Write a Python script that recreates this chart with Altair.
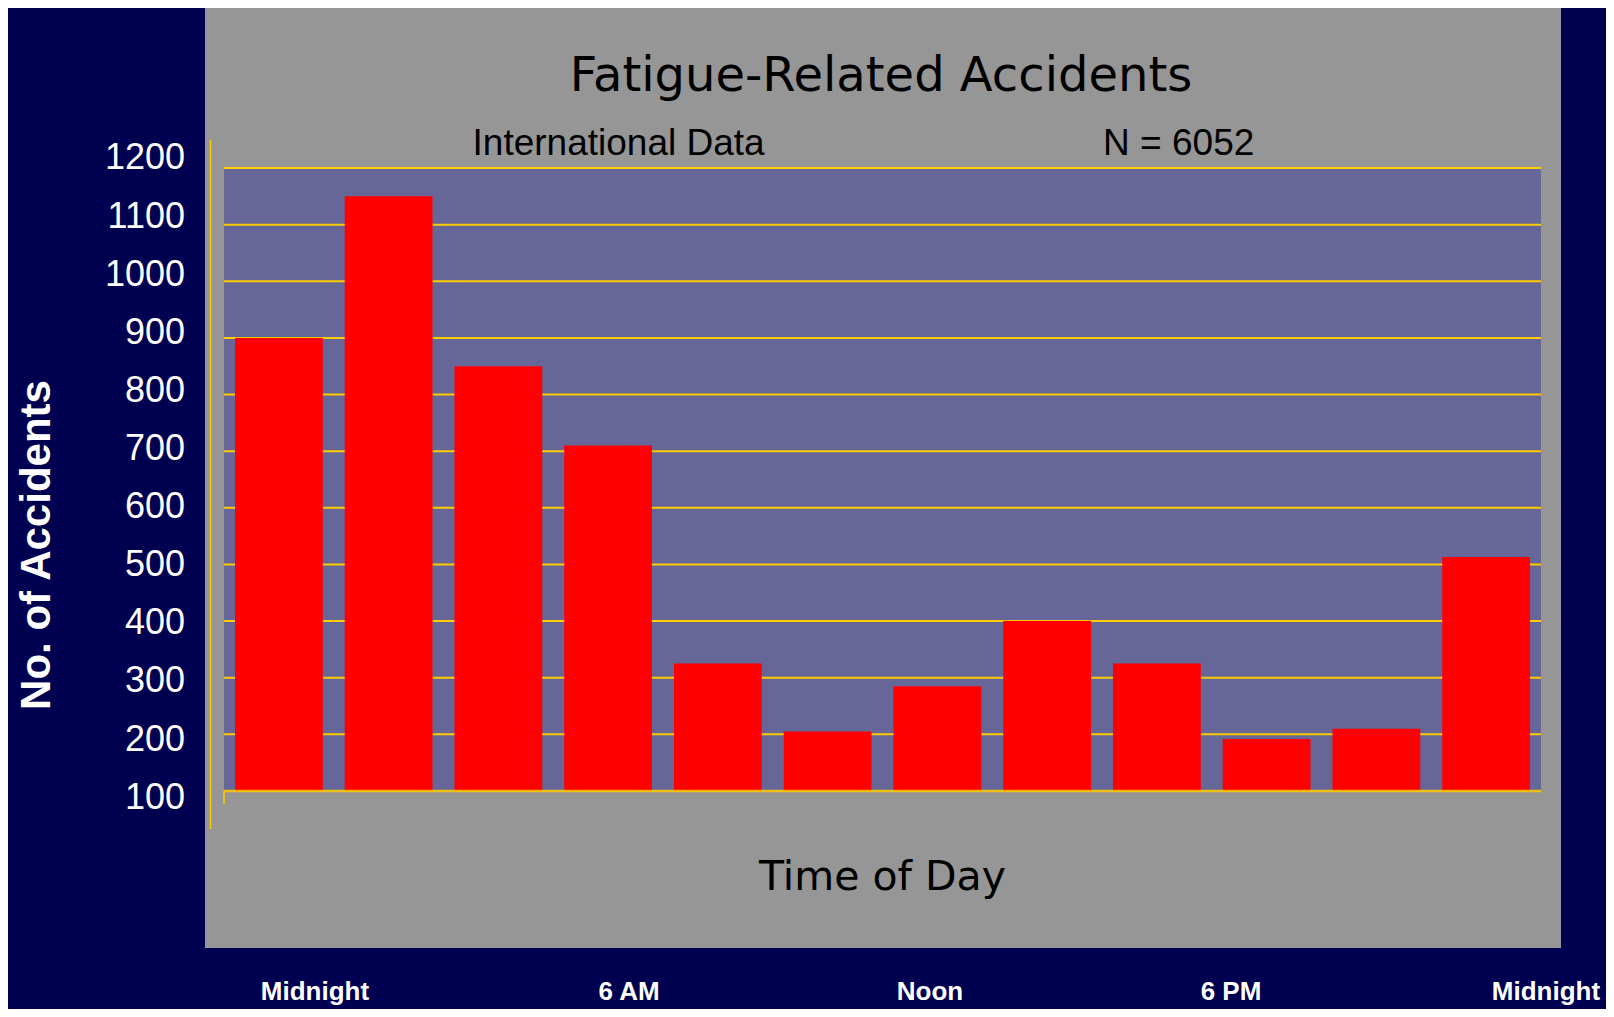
import altair as alt
import pandas as pd

# ---- data ----
intervals = ["00-02", "02-04", "04-06", "06-08", "08-10", "10-12",
             "12-14", "14-16", "16-18", "18-20", "20-22", "22-24"]
accidents = [900, 1150, 850, 710, 325, 205, 285, 400, 325, 192, 210, 513]
y_ticks = [100, 200, 300, 400, 500, 600, 700, 800, 900, 1000, 1100, 1200]
grid_values = [200, 300, 400, 500, 600, 700, 800, 900, 1000, 1100, 1200]
hour_ticks = [0, 6, 12, 18, 24]
hour_labels = ["Midnight", "6 AM", "Noon", "6 PM", "Midnight"]

title_text = "Fatigue-Related Accidents"
sub_left = "International Data"
sub_right = "N = 6052"
x_title = "Time of Day"
y_title = "No. of Accidents"

# ---- style ----
NAVY = "#000050"
GREY = "#969696"
PLOT = "#666699"
GOLD = "#FFCC00"
RED = "#FF0000"
W, H = 1317, 623

df = pd.DataFrame({"interval": intervals, "accidents": accidents})
grid_df = pd.DataFrame({"v": grid_values})
ylab_df = pd.DataFrame({"v": y_ticks, "label": [str(v) for v in y_ticks]})
hours_df = pd.DataFrame({"hour": hour_ticks, "label": hour_labels})
one = alt.Data(values=[{"k": 1}])

yscale = alt.Scale(domain=[100, 1200], zero=False, nice=False)
# the slide's value labels sit on a slightly wider spacing than its gridlines
ylabel_scale = alt.Scale(domain=[111.5, 1183.5], zero=False, nice=False)

panel = alt.Chart(one).mark_rect(color=GREY).encode(
    x=alt.value(-19), x2=alt.value(1337), y=alt.value(-161), y2=alt.value(780))
plotbg = alt.Chart(one).mark_rect(color=PLOT).encode(
    x=alt.value(0), x2=alt.value(W), y=alt.value(0), y2=alt.value(H))

grid = alt.Chart(grid_df).mark_rule(color=GOLD, strokeWidth=2).encode(
    y=alt.Y("v:Q", scale=yscale, axis=None),
    x=alt.value(0), x2=alt.value(W))

bars = alt.Chart(df).mark_bar(color=RED).encode(
    x=alt.X("interval:N", sort=intervals,
            scale=alt.Scale(paddingInner=0.2, paddingOuter=0.1), axis=None),
    y=alt.Y("accidents:Q", scale=yscale, axis=None),
    y2=alt.datum(100))

ylabels = alt.Chart(ylab_df).mark_text(
    font="Liberation Sans", fontSize=36, color="white",
    align="right", baseline="middle").encode(
    x=alt.value(-39),
    y=alt.Y("v:Q", scale=ylabel_scale, axis=None),
    text="label:N")

base_line = alt.Chart(one).mark_rule(color=GOLD, strokeWidth=2.5, opacity=0.85).encode(
    x=alt.value(0), x2=alt.value(W), y=alt.value(H))
small_tick = alt.Chart(one).mark_rule(color=GOLD, strokeWidth=1.5).encode(
    x=alt.value(0), y=alt.value(H), y2=alt.value(H + 13))
v_line = alt.Chart(one).mark_rule(color=GOLD, strokeWidth=1.5).encode(
    x=alt.value(-13.5), y=alt.value(-28), y2=alt.value(661))

t_title = alt.Chart(one).mark_text(
    text=title_text, font="DejaVu Sans", fontSize=48, color="black",
    align="center", baseline="alphabetic").encode(x=alt.value(657), y=alt.value(-77))
t_left = alt.Chart(one).mark_text(
    text=sub_left, font="Liberation Sans", fontSize=37, color="black",
    align="center", baseline="alphabetic").encode(x=alt.value(394.6), y=alt.value(-13))
t_right = alt.Chart(one).mark_text(
    text=sub_right, font="Liberation Sans", fontSize=37, color="black",
    align="center", baseline="alphabetic").encode(x=alt.value(954.7), y=alt.value(-13))
t_xtitle = alt.Chart(one).mark_text(
    text=x_title, font="DejaVu Sans", fontSize=41, color="black",
    align="center", baseline="alphabetic").encode(x=alt.value(658.5), y=alt.value(722))
t_ytitle = alt.Chart(one).mark_text(
    text=y_title, font="Liberation Sans", fontSize=42, fontWeight="bold",
    color="white", angle=270, align="center", baseline="middle").encode(
    x=alt.value(-187), y=alt.value(377))

hour_text = alt.Chart(hours_df).mark_text(
    font="Liberation Sans", fontSize=26, fontWeight="bold", color="white",
    align="center", baseline="alphabetic").encode(
    x=alt.X("hour:Q", scale=alt.Scale(domain=[0, 6, 12, 18, 24],
                                      range=[91, 405, 706, 1007, 1322]), axis=None),
    y=alt.value(832),
    text="label:N")

chart = alt.layer(
    panel, plotbg, grid, bars, base_line, small_tick, v_line, ylabels,
    t_title, t_left, t_right, t_xtitle, t_ytitle, hour_text
).resolve_scale(x="independent", y="independent").properties(
    width=W, height=H, autosize="none",
    padding={"left": 216, "top": 160, "right": 65, "bottom": 218},
    background=NAVY,
).configure_view(strokeWidth=0)

chart.save("out.html", embed_options={"renderer": "svg", "actions": False})
